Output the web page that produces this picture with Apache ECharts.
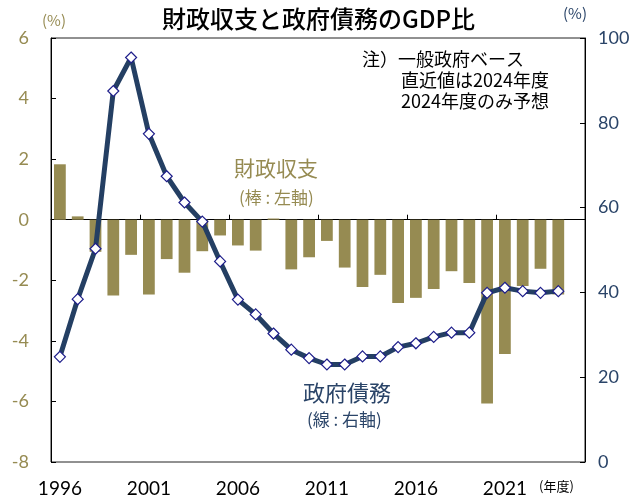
<!DOCTYPE html>
<html><head><meta charset="utf-8">
<script src="https://cdn.jsdelivr.net/npm/echarts@6/dist/echarts.min.js"></script>
<style>html,body{margin:0;padding:0;background:#fff}#c{width:637px;height:498px}</style>
</head><body><div id="c"></div>
<script>
const years = ['1996','1997','1998','1999','2000','2001','2002','2003','2004','2005','2006','2007','2008','2009','2010','2011','2012','2013','2014','2015','2016','2017','2018','2019','2020','2021','2022','2023','2024',''];
const fiscalBalance = [1.83,0.11,-1.06,-2.5,-1.16,-2.47,-1.30,-1.75,-1.04,-0.52,-0.85,-1.02,0.04,-1.64,-1.24,-0.70,-1.58,-2.22,-1.82,-2.75,-2.58,-2.29,-1.70,-2.09,-6.07,-4.43,-2.19,-1.62,-2.47];
const govDebt = [24.8,38.4,50.3,87.5,95.4,77.4,67.4,61.2,56.7,47.3,38.3,34.8,30.3,26.5,24.5,23.0,23.0,24.9,24.9,27.1,28.0,29.5,30.5,30.5,39.9,41.1,40.3,39.9,40.3];
const leftTicks = {min:-8, max:6, interval:2};
const rightTicks = {min:0, max:100, interval:20};

const OLIVE = '#968b52', NAVY = '#2a4468', BARC = '#968b52';
const FONT = '"Noto Sans CJK JP", "Noto Sans", sans-serif';
const chart = echarts.init(document.getElementById('c'));
chart.setOption({
  animation:false,
  textStyle:{fontFamily:FONT},
  title:{text:'財政収支と政府債務のGDP比', left:'center', top:2,
    textStyle:{fontSize:24, fontWeight:500, color:'#000', fontFamily:FONT}},
  grid:{left:51, right:52, top:38, bottom:36, show:true, borderColor:'#222', borderWidth:1},
  xAxis:[
    {type:'category', data:years, position:'bottom',
     axisLine:{onZero:true, onZeroAxisIndex:0, lineStyle:{color:'#000', width:1}},
     axisTick:{show:true, inside:true, interval:4, length:5, lineStyle:{color:'#000'}},
     axisLabel:{show:false}},
    {type:'category', data:years, position:'bottom',
     axisLine:{show:false, onZero:false}, axisTick:{show:false},
     axisLabel:{show:true, interval:4, color:'#000', fontSize:19, margin:17, fontFamily:'Lato, "Noto Sans", sans-serif'}}
  ],
  yAxis:[
    {type:'value', min:leftTicks.min, max:leftTicks.max, interval:leftTicks.interval, position:'left',
     axisLine:{show:true, lineStyle:{color:'#000'}},
     axisTick:{show:true, inside:true, length:5, lineStyle:{color:'#000'}},
     axisLabel:{color:OLIVE, fontSize:18, margin:22, fontFamily:'Lato, sans-serif'},
     splitLine:{show:false}},
    {type:'value', min:rightTicks.min, max:rightTicks.max, interval:rightTicks.interval, position:'right',
     axisLine:{show:true, lineStyle:{color:'#000'}},
     axisTick:{show:true, inside:true, length:5, lineStyle:{color:'#000'}},
     axisLabel:{color:NAVY, fontSize:18, margin:13, fontFamily:'Lato, sans-serif'},
     splitLine:{show:false}, alignTicks:false}
  ],
  series:[
    {type:'bar', name:'財政収支', data:fiscalBalance, xAxisIndex:0, yAxisIndex:0,
     barWidth:'66%', itemStyle:{color:BARC}, z:2},
    {type:'line', name:'政府債務', data:govDebt, xAxisIndex:0, yAxisIndex:1,
     lineStyle:{color:'#243f63', width:5}, symbol:'diamond', symbolSize:11,
     itemStyle:{color:'#fff', borderColor:'#1d1d8a', borderWidth:1.2}, z:5}
  ],
  graphic:[
    {type:'text', left:42, top:13, style:{text:'(%)', fill:OLIVE, font:'15px '+FONT}},
    {type:'text', left:563, top:6, style:{text:'(%)', fill:NAVY, font:'15px '+FONT}},
    {type:'text', left:539, top:480, style:{text:'(年度)', fill:'#000', font:'13px '+FONT}},
    {type:'text', left:362, top:50, style:{text:'注）一般政府ベース', fill:'#000', font:'18px '+FONT}},
    {type:'text', left:401, top:71, style:{text:'直近値は2024年度', fill:'#000', font:'18px '+FONT}},
    {type:'text', left:401, top:92, style:{text:'2024年度のみ予想', fill:'#000', font:'18px '+FONT}},
    {type:'text', left:234, top:158, style:{text:'財政収支', fill:OLIVE, font:'21px '+FONT}},
    {type:'text', left:239, top:189, style:{text:'(棒 : 左軸)', fill:OLIVE, font:'17px '+FONT}},
    {type:'text', left:303, top:382, style:{text:'政府債務', fill:NAVY, font:'22px '+FONT}},
    {type:'text', left:307, top:411, style:{text:'(線 : 右軸)', fill:NAVY, font:'17px '+FONT}}
  ]
});
</script></body></html>
